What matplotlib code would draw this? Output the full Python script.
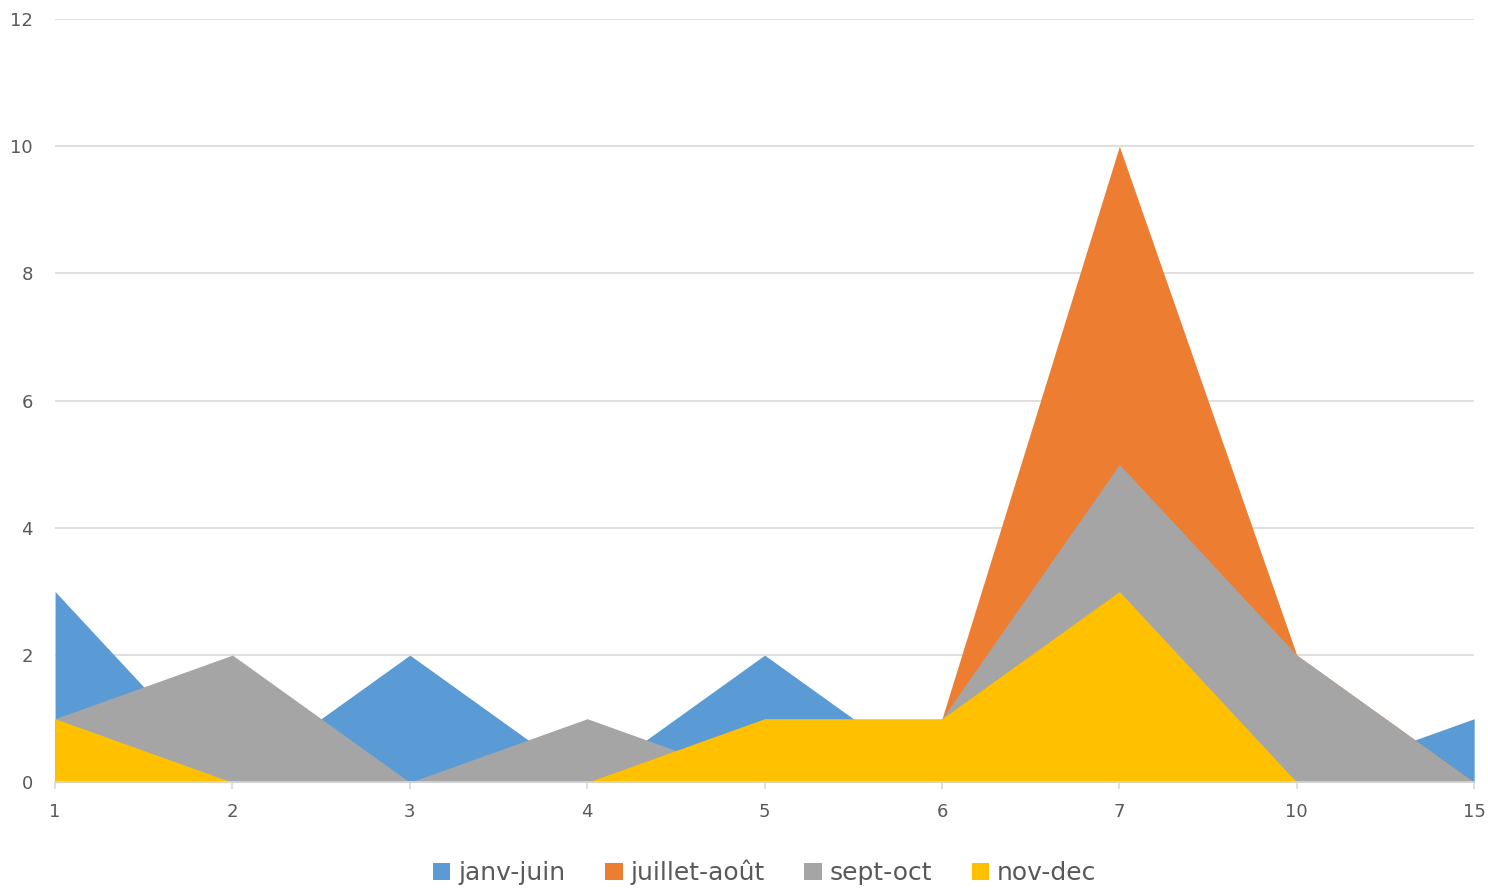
import matplotlib.pyplot as plt

# Données
categories = ['1', '2', '3', '4', '5', '6', '7', '10', '15']
janv_juin = [3, 0, 2, 0, 2, 0, 0, 0, 1]
juillet_aout = [0, 0, 0, 0, 0, 1, 10, 2, 0]
sept_oct = [1, 2, 0, 1, 0, 1, 5, 2, 0]
nov_dec = [1, 0, 0, 0, 1, 1, 3, 0, 0]

series = [
    ('janv-juin', janv_juin, '#5B9BD5'),
    ('juillet-août', juillet_aout, '#ED7D31'),
    ('sept-oct', sept_oct, '#A5A5A5'),
    ('nov-dec', nov_dec, '#FFC000'),
]

fig = plt.figure(figsize=(14.88, 8.89), dpi=100)
ax = fig.add_axes([0.037, 0.12, 0.9537, 0.8586])

x = list(range(len(categories)))
for nom, vals, couleur in series:
    ax.fill_between(x, 0, vals, color=couleur, label=nom, linewidth=0, zorder=2)

ax.set_xlim(0, len(categories) - 1)
ax.set_ylim(0, 12)
ax.set_yticks(range(0, 13, 2))
ax.set_xticks(x)
ax.set_xticklabels(categories)

ax.grid(axis='y', color='#D9D9D9', linewidth=1.2, zorder=0)
for s in ['top', 'right', 'left']:
    ax.spines[s].set_visible(False)
ax.spines['bottom'].set_color('#D9D9D9')
ax.spines['bottom'].set_linewidth(1.2)
ax.spines['bottom'].set_zorder(3)

ax.tick_params(axis='y', length=0, labelsize=13, labelcolor='#595959', pad=16)
ax.tick_params(axis='x', length=5, color='#D9D9D9', width=1.2,
               labelsize=13, labelcolor='#595959', pad=10)

ax.legend(loc='upper center', bbox_to_anchor=(0.5, -0.072), ncol=4, frameon=False,
          fontsize=18, handlelength=0.7, handleheight=0.7, handletextpad=0.3,
          columnspacing=1.6, labelcolor='#595959')

plt.savefig('out.png', dpi=100)
